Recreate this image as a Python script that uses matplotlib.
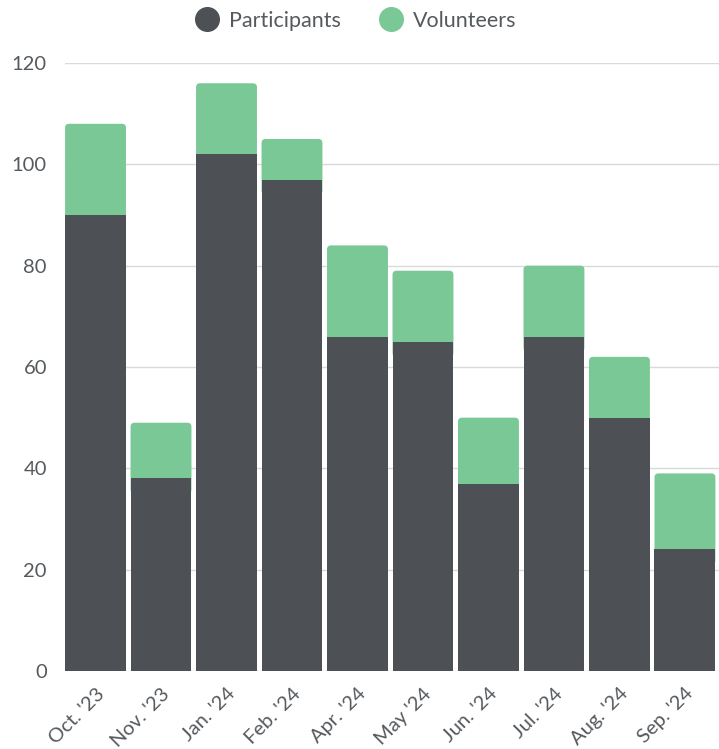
import numpy as np
import matplotlib.pyplot as plt
from matplotlib.lines import Line2D
from matplotlib.patches import FancyBboxPatch

months = ["Oct. '23", "Nov. '23", "Jan. '24", "Feb. '24", "Apr. '24",
          "May '24", "Jun. '24", "Jul. '24", "Aug. '24", "Sep. '24"]
participants = [90, 38, 102, 97, 66, 65, 37, 66, 50, 24]
volunteers = [18, 11, 14, 8, 18, 14, 13, 14, 12, 15]

DARK = '#4d5156'
GREEN = '#7ac896'
TEXT = '#555a5e'
BAR_W = 0.93

plt.rcParams['font.family'] = ['Lato', 'DejaVu Sans']

fig = plt.figure(figsize=(7.19, 7.49), dpi=100)
ax = fig.add_axes([65/719, 1 - 671/749, 654/719, (671 - 63)/749])

ax.set_xlim(-0.466, 9.52)
ax.set_ylim(0, 120)

x = np.arange(len(months))
ax.bar(x, participants, width=BAR_W, color=DARK, zorder=3)

# volunteers on top, with slightly rounded top corners
px_x = 654 / (9.52 + 0.466)   # pixels per x unit
px_y = 608 / 120              # pixels per y unit
r = 4 / px_x
for xi, p, v in zip(x, participants, volunteers):
    patch = FancyBboxPatch((xi - BAR_W / 2, p - 3), BAR_W, v + 3,
                           boxstyle=f"round,pad=0,rounding_size={r}",
                           mutation_aspect=px_x / px_y,
                           fc=GREEN, ec='none', zorder=2)
    ax.add_patch(patch)

ax.set_yticks(range(0, 121, 20))
ax.grid(axis='y', color='#dadada', lw=1, zorder=0)
for s in ax.spines.values():
    s.set_visible(False)
ax.tick_params(length=0)
ax.tick_params(axis='y', labelsize=14.5, labelcolor=TEXT, pad=13)
ax.set_xticks(x)
ax.set_xticklabels(months, rotation=45, ha='right', rotation_mode='anchor',
                   fontsize=14.5, color=TEXT)
ax.tick_params(axis='x', pad=10)

handles = [Line2D([], [], marker='o', ls='', ms=17, color=DARK, label='Participants'),
           Line2D([], [], marker='o', ls='', ms=17, color=GREEN, label='Volunteers')]
fig.legend(handles=handles, loc='center', bbox_to_anchor=(0.494, 1 - 21/749), ncol=2,
           frameon=False, fontsize=15.5, labelcolor=TEXT, handletextpad=0.45,
           columnspacing=1.7, handlelength=1.2)

fig.savefig('out.png', dpi=100)
